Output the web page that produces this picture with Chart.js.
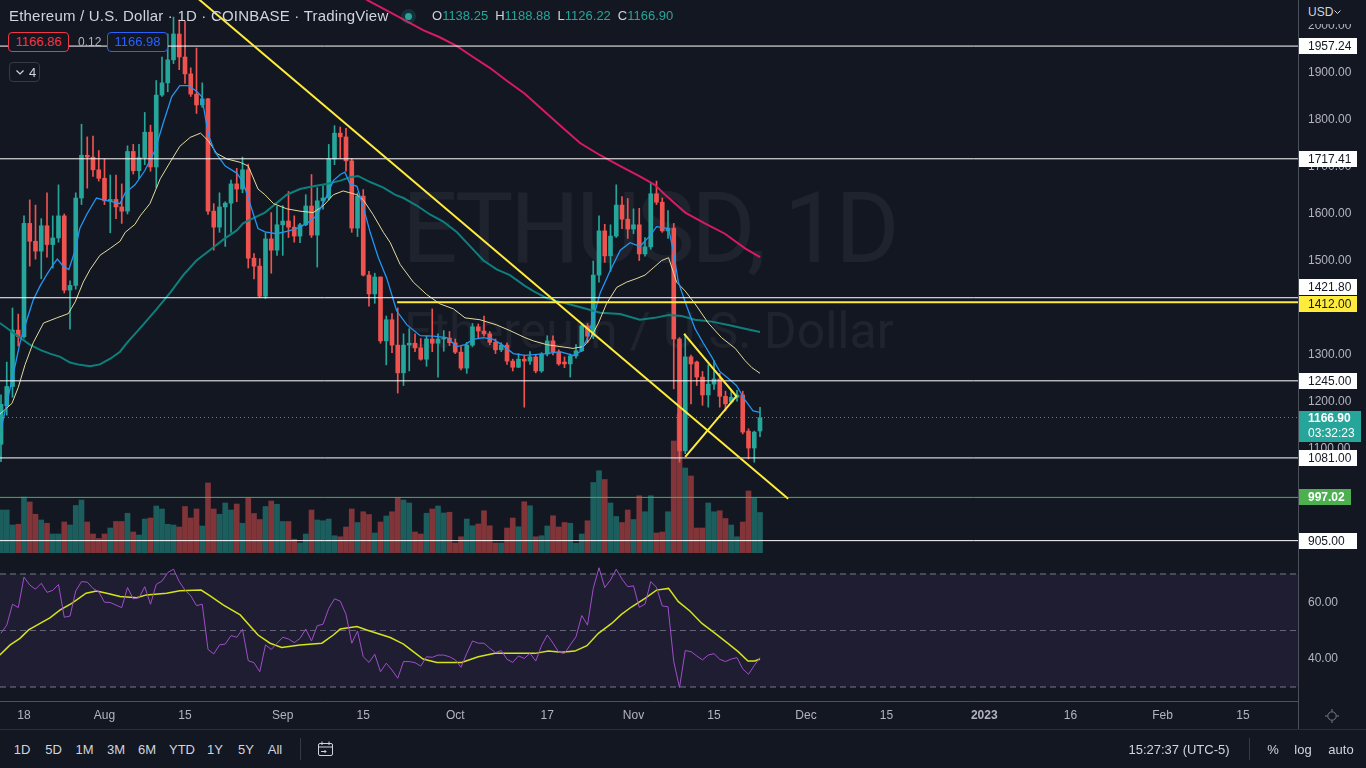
<!DOCTYPE html>
<html>
<head>
<meta charset="utf-8">
<title>Ethereum / U.S. Dollar · 1D · COINBASE</title>
<script src="https://cdn.jsdelivr.net/npm/chart.js@4.4.1/dist/chart.umd.min.js"></script>
<style>
  html, body { margin: 0; padding: 0; background: #131722; }
  body { position: relative; width: 1366px; height: 768px; overflow: hidden;
         font-family: 'Liberation Sans', Arial, sans-serif; color: #d1d4dc; }
  .abs { position: absolute; white-space: nowrap; }
  .wm { left: 0; width: 1298px; text-align: center; font-family: Roboto, sans-serif; color: rgba(255,255,255,0.055); }
  #wm1 { top: 180px; font-size: 98px; line-height: 98px; letter-spacing: -3.5px; }
  #wm2 { top: 306px; font-size: 50px; line-height: 50px; }
  #pricePane { position: absolute; left: 0; top: 0; width: 1366px; height: 556px; }
  #rsiPane { position: absolute; left: 0; top: 556px; width: 1366px; height: 173px; }
  .title { left: 9px; top: 6px; font-size: 15px; line-height: 20px; letter-spacing: 0.2px; }
  .ohlc { left: 432px; top: 8px; font-size: 13px; line-height: 16px; }
  .ohlc b { font-weight: normal; color: #d1d4dc; }
  .ohlc i { font-style: normal; color: #26a69a; margin-right: 7px; }
  .dot { left: 405px; top: 13px; width: 7px; height: 7px; border-radius: 50%; background: #26a69a;
         box-shadow: 0 0 0 4px rgba(38,166,154,0.18); }
  .qbox { top: 32px; height: 20px; width: 61px; box-sizing: border-box; border-radius: 4px; background: #131722;
          font-size: 13px; line-height: 18px; text-align: center; }
  .usd { left: 1299px; top: 0; width: 67px; height: 24px; background: #131722; }
  .tb { top: 742px; font-size: 13px; line-height: 16px; color: #d1d4dc; transform: translateX(-50%); }
  .vsep { width: 1px; background: #363a45; }
</style>
</head>
<body>
<div class="abs wm" id="wm1">ETHUSD, 1D</div>
<div class="abs wm" id="wm2">Ethereum / U.S. Dollar</div>

<div id="pricePane"><canvas id="priceChart"></canvas></div>
<div id="rsiPane"><canvas id="rsiChart"></canvas></div>

<!-- header -->
<div class="abs title">Ethereum / U.S. Dollar · 1D · COINBASE · TradingView</div>
<div class="abs dot"></div>
<div class="abs ohlc" id="ohlc"></div>
<div class="abs qbox" style="left:8px;border:1px solid #f23645;color:#f23645">1166.86</div>
<div class="abs" style="left:78px;top:35px;font-size:12px;line-height:14px;color:#b2b5be">0.12</div>
<div class="abs qbox" style="left:107px;border:1px solid #2962ff;color:#2962ff">1166.98</div>
<div class="abs" style="left:9px;top:62px;width:31px;height:20px;box-sizing:border-box;border:1px solid #363a45;border-radius:4px;background:#131722">
  <svg class="abs" style="left:6px;top:7px" width="8" height="5" viewBox="0 0 8 5"><polyline points="0.5,0.5 4,4 7.5,0.5" fill="none" stroke="#d1d4dc" stroke-width="1.2"/></svg>
  <span class="abs" style="left:19px;top:2px;font-size:13px;line-height:15px;color:#d1d4dc">4</span>
</div>

<!-- price scale header -->
<div class="abs usd"></div>
<div class="abs" style="left:1308px;top:5px;font-size:12px;line-height:14px;color:#d1d4dc">USD</div>
<svg class="abs" style="left:1334px;top:10px" width="7" height="5" viewBox="0 0 7 5"><polyline points="0.5,0.5 3.5,3.5 6.5,0.5" fill="none" stroke="#d1d4dc" stroke-width="1"/></svg>

<!-- separators -->
<div class="abs" style="left:1298px;top:0;width:1px;height:729px;background:#4c505b"></div>
<div class="abs" style="left:0;top:729px;width:1366px;height:1px;background:#2a2e39"></div>

<!-- scale settings icon -->
<svg class="abs" style="left:1324px;top:708px" width="16" height="16" viewBox="0 0 16 16">
  <circle cx="8" cy="8" r="4.2" fill="none" stroke="#787b86" stroke-width="1"/>
  <g stroke="#787b86" stroke-width="1">
    <line x1="8" y1="1" x2="8" y2="3.5"/><line x1="8" y1="12.5" x2="8" y2="15"/>
    <line x1="1" y1="8" x2="3.5" y2="8"/><line x1="12.5" y1="8" x2="15" y2="8"/>
  </g>
</svg>

<!-- bottom toolbar -->
<div id="toolbar"></div>
<div class="abs vsep" style="left:300px;top:738px;height:22px"></div>
<svg class="abs" style="left:317px;top:741px" width="17" height="16" viewBox="0 0 17 16">
  <g fill="none" stroke="#d1d4dc" stroke-width="1">
    <rect x="1.5" y="2.5" width="14" height="12" rx="1.5"/>
    <line x1="1.5" y1="6" x2="15.5" y2="6"/><line x1="5" y1="0.5" x2="5" y2="4"/><line x1="12" y1="0.5" x2="12" y2="4"/>
    <polyline points="4,10.5 9,10.5"/><polyline points="7.5,9 9,10.5 7.5,12"/>
  </g>
</svg>
<div class="abs tb" style="left:1179px">15:27:37 (UTC-5)</div>
<div class="abs vsep" style="left:1249px;top:738px;height:22px"></div>
<div class="abs tb" style="left:1273px">%</div>
<div class="abs tb" style="left:1303px">log</div>
<div class="abs tb" style="left:1341px">auto</div>

<script>
const FONT = "'Liberation Sans', Arial, sans-serif";
const UP = '#26a69a';
const DOWN = '#ef5350';
const UP_VOL = 'rgba(38,166,154,0.5)';
const DOWN_VOL = 'rgba(239,83,80,0.5)';
const YELLOW = '#ffeb3b';

// x = days since 2022-07-18; first candle is 2022-07-14
const firstDay = -4;

// daily candles, 2022-07-14 .. 2022-11-23
const opens = [
  1110,1192,1233,1353,1339,1580,1542,1521,1575,1535,1549,1596,1438,1448,1634,1725,1721,1694,
  1676,1628,1631,1615,1606,1733,1692,1720,1774,1700,1853,1879,1928,1983,1934,1898,1855,1832,1845,1606,1572,1615,1623,1664,1653,1694,1506,1489,1425,1547,1523,
  1577,1585,1572,1553,1577,1617,1555,1628,1634,1717,1772,1764,1713,1570,1638,1470,1430,1466,1330,1375,1321,1262,1321,1325,1315,1291,1334,1325,1334,1336,
  1326,1306,1272,1321,1360,1351,1345,1327,1311,1321,1287,1274,1291,1287,1296,1266,1302,1330,1306,1285,1281,1298,1309,1362,1340,1470,1564,1511,1553,1619,1589,
  1568,1577,1515,1530,1643,1625,1564,1570,1334,1096,1296,1285,1253,1215,1238,1249,1212,1200,1210,1215,1138,1102,1138.25
];
const highs = [
  1215,1285,1400,1387,1596,1630,1619,1590,1645,1596,1662,1600,1458,1645,1791,1764,1766,1735,
  1717,1683,1683,1664,1745,1748,1748,1816,1789,1884,1934,1983,2019,2013,2010,1911,1953,1879,1846,1622,1645,1626,1672,1697,1721,1706,1516,1505,1560,1603,1617,
  1618,1648,1596,1580,1641,1684,1656,1660,1748,1788,1785,1782,1718,1645,1652,1478,1474,1466,1383,1388,1400,1345,1356,1345,1335,1340,1398,1345,1352,1350,
  1334,1318,1327,1367,1366,1383,1350,1334,1326,1326,1291,1303,1300,1307,1300,1305,1341,1341,1311,1296,1302,1322,1367,1367,1500,1596,1578,1577,1662,1637,1633,
  1611,1612,1550,1665,1670,1634,1607,1580,1337,1345,1300,1287,1265,1279,1288,1261,1223,1227,1225,1223,1143,1138,1188.88
];
const lows = [
  1073,1172,1210,1319,1336,1489,1504,1462,1508,1485,1540,1432,1355,1440,1620,1655,1680,1670,
  1620,1560,1590,1580,1600,1685,1675,1705,1691,1656,1850,1860,1920,1907,1878,1850,1814,1827,1599,1523,1561,1531,1561,1626,1645,1485,1462,1422,1420,1474,1512,
  1512,1550,1540,1539,1575,1550,1487,1610,1630,1705,1719,1691,1561,1552,1468,1404,1410,1325,1279,1305,1219,1235,1266,1307,1289,1276,1307,1253,1308,1320,
  1303,1268,1261,1318,1335,1340,1322,1303,1307,1280,1266,1273,1189,1280,1262,1263,1298,1300,1278,1273,1253,1293,1307,1326,1335,1455,1497,1478,1550,1569,1548,
  1558,1501,1510,1525,1620,1561,1548,1228,1072,1090,1196,1235,1193,1189,1227,1189,1181,1197,1202,1132,1079,1072,1126.22
];
const closes = [
  1195,1233,1353,1339,1580,1542,1521,1575,1535,1549,1596,1438,1448,1634,1725,1721,1694,1676,
  1628,1631,1615,1606,1733,1692,1720,1774,1700,1853,1879,1928,1983,1934,1898,1855,1832,1845,1606,1572,1615,1623,1664,1653,1694,1506,1489,1425,1547,1523,1577,
  1585,1572,1553,1577,1617,1555,1628,1634,1717,1772,1764,1713,1570,1638,1470,1430,1466,1330,1375,1321,1262,1321,1325,1315,1291,1334,1325,1334,1336,1326,
  1306,1272,1321,1360,1351,1345,1327,1311,1321,1287,1274,1291,1287,1296,1266,1302,1330,1306,1281,1281,1298,1309,1362,1340,1470,1564,1511,1553,1619,1589,1568,
  1577,1515,1530,1643,1625,1564,1570,1334,1096,1296,1281,1253,1215,1238,1249,1212,1196,1210,1215,1136,1102,1136,1166.90
];
// volume, thousand ETH
const volumes = [
  172,172,112,115,224,204,155,132,119,76,76,124,112,190,212,124,76,58,
  76,100,126,126,159,84,72,136,140,188,176,115,112,104,186,140,176,108,280,176,155,200,172,196,119,220,158,134,186,208,195,
  126,126,55,40,76,172,132,129,136,69,65,104,176,122,165,154,80,124,148,165,222,212,200,84,76,159,176,188,160,163,
  40,65,136,109,116,169,109,40,40,100,140,105,205,189,65,69,108,149,104,122,119,39,76,129,282,329,294,200,146,122,172,
  134,229,165,229,80,84,165,448,555,340,308,100,100,200,165,169,138,112,65,124,248,222,162
];
// RSI 14
const rsi = [
  49.0,51.9,59.3,58.1,68.9,66.1,64.6,66.7,63.5,64.2,66.3,54.7,55.1,64.0,67.3,67.1,64.9,63.7,
  60.0,59.9,59.0,58.1,65.2,61.2,61.6,65.5,59.3,66.3,67.5,70.5,71.7,67.3,64.3,62.3,58.8,59.3,43.3,41.7,44.9,45.2,48.2,47.6,50.4,39.3,38.6,35.4,44.9,43.3,45.5,
  47.6,47.0,45.7,47.2,50.5,46.3,51.7,52.2,57.8,61.2,60.4,55.7,45.5,49.8,40.7,38.7,41.6,35.4,38.4,36.0,33.1,39.0,39.0,38.6,37.4,40.7,40.5,41.3,41.3,40.7,
  39.6,37.0,41.9,46.3,45.5,45.5,43.7,42.2,42.9,39.8,38.7,41.0,40.1,41.9,39.2,44.6,48.4,45.5,42.3,41.9,44.9,47.8,55.3,51.9,64.9,72.2,65.2,67.9,71.7,68.2,65.5,
  65.8,58.2,59.3,67.3,65.3,58.7,58.4,39.0,29.8,42.9,42.5,41.0,39.6,41.3,41.8,39.8,39.0,39.9,40.4,36.4,34.5,37.6,40.4
];

// indicator lines: [day, value]
const maFast = [[-3.9,1147],[-3.0,1197],[-1.9,1257],[-0.7,1326],[0.5,1375],[1.6,1417],[2.8,1447],[3.9,1470],[5.1,1493],[5.8,1504],[6.8,1489],[7.8,1482],[8.9,1523],[9.7,1569],[10.9,1599],[12.6,1634],[13.8,1630],[15.5,1626],[16.7,1622],[17.6,1645],[19.3,1662],[21.0,1692],[22.8,1736],[24.2,1793],[25.7,1850],[27.1,1873],[28.6,1873],[30.0,1861],[30.9,1850],[32.1,1767],[33.2,1732],[35.0,1702],[37.0,1687],[38.1,1668],[39.3,1622],[40.7,1569],[41.9,1562],[43.9,1558],[45.7,1563],[47.4,1569],[49.2,1580],[50.9,1596],[52.6,1637],[53.8,1671],[55.0,1684],[55.8,1689],[56.7,1664],[57.9,1659],[59.0,1615],[60.2,1561],[61.6,1508],[63.1,1463],[64.8,1394],[66.6,1364],[68.9,1341],[71.2,1340],[73.5,1337],[75.3,1318],[76.7,1322],[78.1,1333],[79.9,1337],[81.6,1333],[83.1,1322],[85.1,1303],[87.1,1299],[90.9,1303],[93.2,1307],[95.5,1299],[96.7,1307],[97.9,1333],[99.0,1379],[100.2,1432],[101.9,1478],[103.7,1523],[105.4,1539],[107.1,1531],[108.9,1554],[110.0,1573],[112.1,1569],[112.9,1523],[113.8,1455],[115.3,1402],[116.7,1356],[118.1,1326],[119.6,1296],[121.0,1265],[122.5,1250],[123.9,1235],[125.4,1204],[126.8,1181],[128.0,1178]];
const maMid = [[-4.2,1174],[-2.1,1197],[-1.0,1231],[0.2,1280],[1.6,1326],[3.4,1368],[5.7,1379],[7.7,1388],[8.9,1413],[10.3,1455],[11.5,1482],[13.2,1512],[15.0,1527],[16.7,1542],[17.6,1561],[19.3,1578],[20.2,1596],[21.9,1622],[23.7,1675],[25.4,1710],[27.1,1744],[28.9,1763],[30.7,1772],[32.1,1755],[33.5,1729],[35.3,1717],[37.6,1710],[39.0,1702],[40.7,1653],[41.9,1641],[43.4,1622],[45.7,1611],[48.0,1606],[50.3,1603],[52.1,1618],[53.8,1641],[55.5,1649],[57.9,1641],[59.0,1630],[60.7,1599],[62.5,1561],[63.7,1539],[65.4,1493],[67.7,1455],[70.0,1429],[72.3,1409],[74.7,1398],[76.7,1379],[79.3,1375],[82.2,1364],[84.5,1352],[87.1,1337],[88.6,1330],[90.9,1322],[93.2,1318],[95.5,1314],[97.3,1318],[98.4,1333],[99.9,1368],[101.3,1409],[103.1,1444],[104.8,1455],[106.6,1463],[108.0,1470],[109.4,1485],[110.9,1501],[112.1,1507],[113.5,1455],[115.0,1436],[116.7,1409],[119.0,1368],[121.3,1337],[123.7,1314],[125.4,1288],[126.6,1273],[128.0,1261]];
const maSlow = [[-4.2,1368],[-2.4,1352],[-0.7,1337],[1.0,1322],[2.8,1311],[4.5,1303],[6.3,1296],[8.0,1284],[9.7,1279],[11.5,1276],[13.2,1280],[15.0,1292],[16.7,1307],[17.9,1326],[19.3,1345],[20.7,1364],[23.1,1398],[25.4,1432],[27.7,1470],[30.0,1501],[32.3,1523],[34.7,1546],[37.0,1565],[38.1,1580],[39.9,1591],[41.9,1603],[43.4,1618],[45.7,1641],[48.0,1653],[50.3,1659],[52.6,1664],[55.0,1671],[56.7,1678],[58.1,1681],[60.2,1668],[62.5,1656],[64.5,1641],[66.0,1634],[68.3,1618],[70.6,1599],[72.9,1584],[75.3,1561],[77.6,1531],[79.9,1501],[82.2,1482],[84.5,1470],[87.1,1447],[88.6,1436],[90.9,1421],[93.2,1413],[95.5,1406],[97.9,1398],[100.2,1390],[103.7,1387],[107.1,1375],[109.7,1379],[112.1,1385],[114.4,1383],[116.7,1375],[119.6,1371],[122.5,1364],[125.4,1356],[128.0,1349]];
const maLong = [[55.0,2100],[59.7,2055],[63.7,2029],[66.6,2010],[69.4,1991],[72.3,1976],[75.3,1957],[78.1,1934],[81.0,1911],[83.9,1884],[87.1,1856],[89.7,1827],[93.2,1789],[96.7,1751],[100.2,1725],[103.7,1702],[107.1,1680],[109.7,1662],[111.5,1641],[115.0,1603],[118.4,1580],[121.9,1558],[125.4,1527],[128.0,1508]];
const rsiMa = [[-4.2,41.3],[-2.4,44.9],[-0.7,47.2],[0.8,50.2],[2.8,52.5],[4.5,54.5],[6.3,57.3],[8.3,59.6],[10.8,63.2],[12.6,64.0],[14.4,63.2],[16.7,62.0],[19.6,61.6],[21.3,62.6],[24.8,63.2],[27.1,64.1],[30.8,64.3],[32.3,62.3],[34.7,59.0],[37.6,55.5],[40.7,48.4],[42.8,45.5],[44.8,44.0],[48.0,44.9],[51.8,45.5],[53.8,48.4],[55.0,50.5],[57.9,51.4],[59.6,50.2],[63.7,47.5],[65.4,45.8],[66.0,45.2],[67.7,42.5],[69.4,39.9],[71.8,38.7],[76.1,38.7],[79.0,40.7],[81.9,41.9],[84.8,41.9],[88.9,41.9],[91.2,42.7],[93.5,42.3],[95.8,42.7],[97.9,44.6],[99.9,49.0],[102.2,52.5],[103.9,55.7],[105.7,58.4],[108.0,61.4],[110.0,64.3],[112.1,64.9],[113.8,60.2],[115.8,56.9],[117.9,52.5],[120.2,49.0],[122.2,45.8],[124.2,42.5],[125.9,39.2],[127.1,39.2],[128.0,39.9]];

// drawings
const whiteLevels = [1957.24, 1717.41, 1421.80, 1245.00, 1081.00, 905.00];
const yellowLevel = 1412.00;
const yellowLevelFrom = 64.9;
const greenLevel = 997.02;
const trendLine = [[25.0, 2113], [132.9, 994]];
const wedge = [[114.8, 1345], [123.9, 1212], [115.0, 1083]];

// axes
const tickDays = [0, 14, 28, 45, 59, 75, 91, 106, 120, 136, 150, 167, 182, 198, 212];
const tickLabels = ['18', 'Aug', '15', 'Sep', '15', 'Oct', '17', 'Nov', '15', 'Dec', '15', '2023', '16', 'Feb', '15'];
const priceTicks = [1000, 1100, 1200, 1300, 1400, 1500, 1600, 1700, 1800, 1900, 2000];
const rsiTicks = [40, 60];
const countdown = '03:32:23';

const xMin = -4.174, xMax = 221.565;
const priceMin = 878.7, priceMax = 2055.3;
const volMax = 2212;
const rsiMin = 25.04, rsiMax = 76.37;

const days = closes.map((_, i) => i + firstDay);
const last = closes.length - 1;
const isUp = closes.map((c, i) => c >= opens[i]);
const pts = arr => arr.map(p => ({ x: p[0], y: p[1] }));
const hline = (v, from) => [{ x: from, y: v }, { x: xMax, y: v }];
const lineDs = (data, color, width, order, extra) => Object.assign({
  type: 'line', data, borderColor: color, borderWidth: width, pointRadius: 0,
  fill: false, tension: 0, order
}, extra || {});

// header OHLC
document.getElementById('ohlc').innerHTML =
  `<b>O</b><i>${opens[last].toFixed(2)}</i><b>H</b><i>${highs[last].toFixed(2)}</i>` +
  `<b>L</b><i>${lows[last].toFixed(2)}</i><b>C</b><i>${closes[last].toFixed(2)}</i>`;

// toolbar
const ranges = ['1D', '5D', '1M', '3M', '6M', 'YTD', '1Y', '5Y', 'All'];
const rangeX = [22, 53.5, 84.5, 116, 147, 182, 215, 246, 275];
document.getElementById('toolbar').innerHTML =
  ranges.map((r, i) => `<div class="abs tb" style="left:${rangeX[i]}px">${r}</div>`).join('');

// labels on the price scale
const tags = [
  ...whiteLevels.map(v => ({ value: v, text: v.toFixed(2), bg: '#ffffff', fg: '#131722', w: 58, shift: v === 1421.80 ? -11 : 0 })),
  { value: yellowLevel, text: yellowLevel.toFixed(2), bg: YELLOW, fg: '#131722', w: 58, shift: 1.5 },
  { value: greenLevel, text: greenLevel.toFixed(2), bg: '#4caf50', fg: '#ffffff', w: 52, bold: true, shift: 0 },
  { value: closes[last], text: closes[last].toFixed(2), bg: UP, fg: '#ffffff', w: 62, bold: true, shift: 0, sub: countdown }
];

const axisTags = {
  id: 'axisTags',
  afterDraw(chart) {
    const ctx = chart.ctx;
    const ys = chart.scales.y;
    const x0 = chart.chartArea.right + 1;
    ctx.save();
    ctx.textBaseline = 'middle';
    tags.forEach(t => {
      const yc = Math.round(ys.getPixelForValue(t.value) + t.shift);
      const top = t.sub ? yc - 7 : yc - 8;
      const h = t.sub ? 31 : 16;
      ctx.fillStyle = t.bg;
      ctx.fillRect(x0, top, t.w, h);
      ctx.fillStyle = t.fg;
      ctx.font = (t.bold ? 'bold ' : '') + '12px ' + FONT;
      ctx.fillText(t.text, x0 + 9, yc + 1);
      if (t.sub) {
        ctx.font = '12px ' + FONT;
        ctx.fillText(t.sub, x0 + 9, yc + 16);
      }
    });
    ctx.restore();
  }
};

const rightAxisFit = s => { s.width = 68; s.paddingTop = 0; s.paddingBottom = 0; };

new Chart(document.getElementById('priceChart'), {
  type: 'bar',
  data: {
    datasets: [
      { type: 'bar', data: days.map((d, i) => ({ x: d, y: volumes[i] })), yAxisID: 'yVol',
        backgroundColor: isUp.map(u => u ? UP_VOL : DOWN_VOL), barThickness: 5, grouped: false, order: 20 },
      { type: 'bar', data: days.map((d, i) => ({ x: d, y: [lows[i], highs[i]] })),
        backgroundColor: isUp.map(u => u ? UP : DOWN), barThickness: 1, grouped: false, order: 11 },
      { type: 'bar', data: days.map((d, i) => ({ x: d, y: [opens[i], closes[i]] })),
        backgroundColor: isUp.map(u => u ? UP : DOWN), barThickness: 4, minBarLength: 1, grouped: false, order: 10 },
      lineDs(pts(maSlow), '#0e7f7d', 2, 8),
      lineDs(pts(maLong), '#d81b60', 2, 8),
      lineDs(pts(maMid), '#e3dc9b', 1, 7),
      lineDs(pts(maFast), '#2196f3', 1.3, 6),
      ...whiteLevels.map(v => lineDs(hline(v, xMin), '#ffffff', 1, 5)),
      lineDs(hline(greenLevel, xMin), '#4caf50', 1, 5),
      lineDs(hline(closes[last], xMin), UP, 1, 5, { borderDash: [1, 3] }),
      lineDs(hline(yellowLevel, yellowLevelFrom), YELLOW, 2, 3),
      lineDs(pts(trendLine), YELLOW, 2, 3),
      lineDs(pts(wedge), YELLOW, 2, 3)
    ]
  },
  options: {
    responsive: true,
    maintainAspectRatio: false,
    animation: false,
    layout: { padding: { top: 0, bottom: 3, left: 0, right: 0 } },
    plugins: { legend: { display: false }, tooltip: { enabled: false } },
    scales: {
      x: { type: 'linear', min: xMin, max: xMax, offset: false, display: false },
      y: {
        position: 'right', min: priceMin, max: priceMax,
        afterFit: rightAxisFit,
        afterBuildTicks: ax => { ax.ticks = priceTicks.map(v => ({ value: v })); },
        grid: { display: false, drawTicks: false },
        border: { display: false },
        ticks: { color: '#b2b5be', padding: 10, font: { family: FONT, size: 12 },
                 callback: v => Number(v).toFixed(2) }
      },
      yVol: { display: false, min: 0, max: volMax }
    }
  },
  plugins: [axisTags]
});

new Chart(document.getElementById('rsiChart'), {
  type: 'line',
  data: {
    datasets: [
      lineDs(days.map((d, i) => ({ x: d, y: rsi[i] })), '#a04ec8', 1, 1),
      lineDs(pts(rsiMa), '#d6e31a', 1.5, 1),
      lineDs(hline(70, xMin), '#787b86', 1, 1, { borderDash: [6, 4], fill: 4, backgroundColor: 'rgba(126,87,194,0.1)' }),
      lineDs(hline(50, xMin), 'rgba(120,123,134,0.8)', 1, 1, { borderDash: [6, 4] }),
      lineDs(hline(30, xMin), '#787b86', 1, 1, { borderDash: [6, 4] })
    ]
  },
  options: {
    responsive: true,
    maintainAspectRatio: false,
    animation: false,
    layout: { padding: 0 },
    plugins: { legend: { display: false }, tooltip: { enabled: false } },
    scales: {
      x: {
        type: 'linear', min: xMin, max: xMax, offset: false,
        afterFit: s => { s.height = 28; s.paddingLeft = 0; s.paddingRight = 0; },
        afterBuildTicks: ax => { ax.ticks = tickDays.map(v => ({ value: v })); },
        grid: { display: false, drawTicks: false },
        border: { display: true, color: '#4c505b', width: 1 },
        ticks: {
          autoSkip: false, maxRotation: 0, padding: 7, color: '#b2b5be',
          font: ctx => ({ family: FONT, size: 12, weight: ctx.tick && ctx.tick.value === 167 ? 'bold' : 'normal' }),
          callback: v => tickLabels[tickDays.indexOf(v)]
        }
      },
      y: {
        position: 'right', min: rsiMin, max: rsiMax,
        afterFit: rightAxisFit,
        afterBuildTicks: ax => { ax.ticks = rsiTicks.map(v => ({ value: v })); },
        grid: { display: false, drawTicks: false },
        border: { display: false },
        ticks: { color: '#b2b5be', padding: 10, font: { family: FONT, size: 12 },
                 callback: v => Number(v).toFixed(2) }
      }
    }
  }
});
</script>
</body>
</html>
